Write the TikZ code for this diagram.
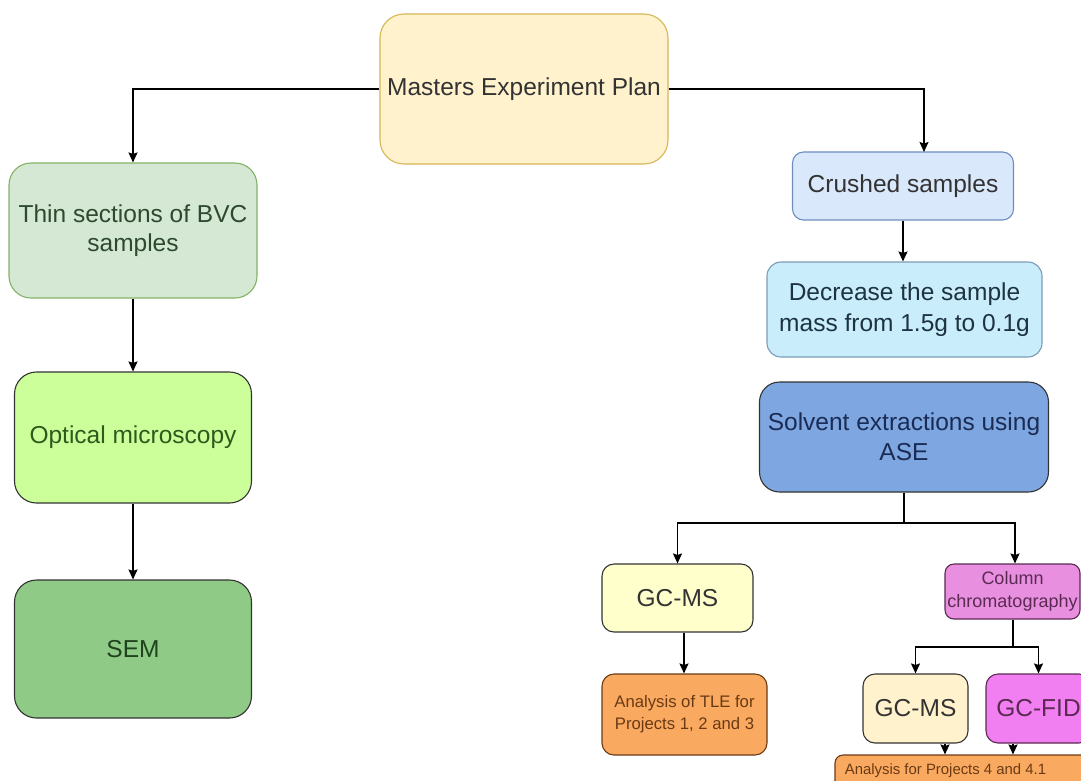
\documentclass[tikz,border=0pt]{standalone}
\usepackage{fontspec}
\setmainfont{Liberation Sans}
\usetikzlibrary{arrows.meta}

\definecolor{masterfill}{HTML}{FFF2CC}
\definecolor{masterline}{HTML}{D6B656}
\definecolor{thinfill}{HTML}{D5E8D4}
\definecolor{thinline}{HTML}{82B366}
\definecolor{opticfill}{HTML}{CCFF99}
\definecolor{semfill}{HTML}{8FCA86}
\definecolor{crushfill}{HTML}{DAE8FC}
\definecolor{crushline}{HTML}{6C8EBF}
\definecolor{massfill}{HTML}{C9EDFA}
\definecolor{massline}{HTML}{7B9CB8}
\definecolor{asefill}{HTML}{7EA6E0}
\definecolor{gcmsfill}{HTML}{FFFFCC}
\definecolor{gcmstwofill}{HTML}{FFF2CC}
\definecolor{orangefill}{HTML}{FAAA60}
\definecolor{columnfill}{HTML}{E88FE0}
\definecolor{fidfill}{HTML}{F27FF2}
\definecolor{darkline}{HTML}{333333}
\definecolor{txtgray}{HTML}{333333}
\definecolor{txtgreen}{HTML}{2E4A2E}
\definecolor{txtlime}{HTML}{2F5A1E}
\definecolor{txtsem}{HTML}{1E431E}
\definecolor{txtcyan}{HTML}{1E3342}
\definecolor{txtnavy}{HTML}{1A2C55}
\definecolor{txtbrown}{HTML}{6A3A14}
\definecolor{txtpurple}{HTML}{5A2A52}

\newcommand{\bigtxt}{\fontsize{24.5}{29}\selectfont}

\tikzset{
  card/.style={rectangle, draw=darkline, line width=1.1pt, align=center, inner sep=0pt},
  link/.style={line width=1.5pt, draw=black},
  arr/.style={link, -{Stealth[length=10pt,width=9pt,inset=1.5pt]}},
}

\begin{document}
\begin{tikzpicture}[x=1pt,y=-1pt]
\useasboundingbox (0,0) rectangle (1081,780);
\clip (0,0) rectangle (1081,780);
\fill[white] (0,0) rectangle (1081,780);

% root
\node[card, rounded corners=24pt, fill=masterfill, draw=masterline, text=txtgray,
      minimum width=288pt, minimum height=150pt, font=\bigtxt] (master) at (524,89)
      {Masters Experiment Plan};

% left branch: thin sections
\node[card, rounded corners=22pt, fill=thinfill, draw=thinline, text=txtgreen,
      minimum width=248pt, minimum height=135pt, font=\bigtxt] (thin) at (133,230.5)
      {Thin sections of BVC\\samples};
\node[card, rounded corners=22pt, fill=opticfill, text=txtlime,
      minimum width=237pt, minimum height=131pt, font=\bigtxt] (optic) at (133,437.5)
      {Optical microscopy};
\node[card, rounded corners=22pt, fill=semfill, text=txtsem,
      minimum width=237pt, minimum height=138pt, font=\bigtxt] (sem) at (133,649)
      {SEM};

% right branch: crushed samples
\node[card, rounded corners=11pt, fill=crushfill, draw=crushline, text=txtgray,
      minimum width=221pt, minimum height=68pt, font=\bigtxt] (crushed) at (903,186)
      {Crushed samples};
\node[card, rounded corners=14pt, fill=massfill, draw=massline, text=txtcyan,
      minimum width=275pt, minimum height=95pt, font=\fontsize{24.5}{31}\selectfont] (mass) at (904.5,309.5)
      {Decrease the sample\\mass from 1.5g to 0.1g};
\node[card, rounded corners=20pt, fill=asefill, text=txtnavy,
      minimum width=289pt, minimum height=110pt, font=\fontsize{24.5}{30}\selectfont] (ase) at (904,437)
      {Solvent extractions using\\ASE};

% analyses
\node[card, rounded corners=12pt, fill=gcmsfill, text=txtgray,
      minimum width=151pt, minimum height=68pt, font=\bigtxt] (gcmsa) at (677.5,598)
      {GC-MS};
\node[card, rounded corners=12pt, fill=orangefill, draw=txtbrown, text=txtbrown,
      minimum width=165pt, minimum height=81pt, font=\fontsize{16.7}{22}\selectfont] (tle) at (684.5,714.5)
      {Analysis of TLE for\\Projects 1, 2 and 3};
\node[card, rounded corners=9pt, fill=columnfill, draw=txtpurple, text=txtpurple,
      minimum width=135pt, minimum height=55pt, font=\fontsize{18}{23}\selectfont] (column) at (1012.5,591.5)
      {Column\\chromatography};
\node[card, rounded corners=12pt, fill=gcmstwofill, text=txtgray,
      minimum width=105pt, minimum height=69pt, font=\bigtxt] (gcmsb) at (915.5,708.5)
      {GC-MS};
\node[card, rounded corners=12pt, fill=fidfill, draw=txtpurple, text=txtpurple,
      minimum width=105pt, minimum height=69pt, font=\bigtxt] (fid) at (1038.5,708.5)
      {GC-FID};
\node[card, rounded corners=8pt, fill=orangefill, draw=txtbrown,
      minimum width=265pt, minimum height=45pt] (proj) at (967.5,777.5) {};
\node[text=txtbrown, inner sep=0pt, font=\fontsize{14.9}{18}\selectfont] (projtext) at (945.5,770.5)
      {Analysis for Projects 4 and 4.1};

% junction points
\coordinate (crushin) at (924,152);
\coordinate (asesplit) at (904,523);
\coordinate (colsplit) at (1013,647);

% connectors
\draw[arr] (master.west) -| (thin.north);
\draw[arr] (master.east) -| (crushin);
\draw[arr] (thin.south) -- (optic.north);
\draw[arr] (optic.south) -- (sem.north);
\draw[arr] (crushed.south) -- (crushed.south |- mass.north);
\draw[link] (ase.south) -- (asesplit);
\draw[arr] (asesplit) -| (gcmsa.north);
\draw[arr] (asesplit) -| ([xshift=2.5pt]column.north);
\draw[arr] ([xshift=-0.5pt]tle.north |- gcmsa.south) -- ([xshift=-0.5pt]tle.north);
\draw[link] (column.south -| colsplit) -- (colsplit);
\draw[arr] (colsplit) -| (gcmsb.north);
\draw[arr] (colsplit) -| (fid.north);
\draw[arr] ([xshift=29.5pt]gcmsb.south) -- ([xshift=29.5pt]gcmsb.south |- proj.north);
\draw[arr] ([xshift=-25.5pt]fid.south) -- ([xshift=-25.5pt]fid.south |- proj.north);
\end{tikzpicture}
\end{document}
